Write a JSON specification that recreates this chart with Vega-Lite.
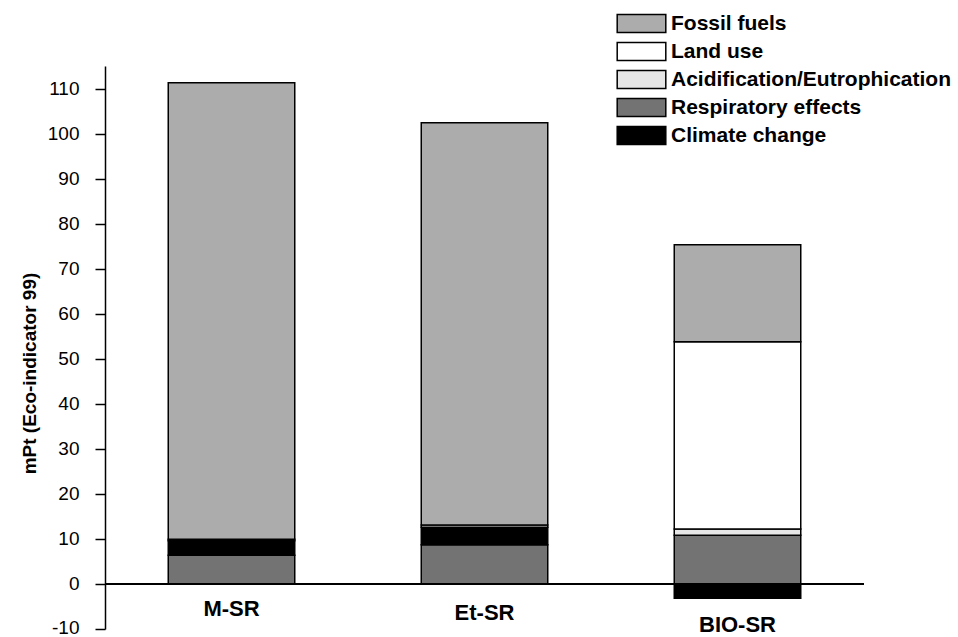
{
  "$schema": "https://vega.github.io/schema/vega-lite/v6.json",
  "width": 759,
  "height": 563,
  "autosize": {"type": "none"},
  "padding": {"left": 105, "top": 66, "right": 94, "bottom": 8},
  "background": "white",
  "config": {
    "font": "Liberation Sans",
    "view": {"stroke": null}
  },
  "data": {
    "values": [
      {"sample": "M-SR", "category": "Respiratory effects", "o": 1, "value": 6.4},
      {"sample": "M-SR", "category": "Climate change", "o": 2, "value": 3.2},
      {"sample": "M-SR", "category": "Acidification/Eutrophication", "o": 3, "value": 0.3},
      {"sample": "M-SR", "category": "Fossil fuels", "o": 5, "value": 101.4},
      {"sample": "Et-SR", "category": "Respiratory effects", "o": 1, "value": 8.7},
      {"sample": "Et-SR", "category": "Climate change", "o": 2, "value": 3.9},
      {"sample": "Et-SR", "category": "Acidification/Eutrophication", "o": 3, "value": 0.5},
      {"sample": "Et-SR", "category": "Fossil fuels", "o": 5, "value": 89.3},
      {"sample": "BIO-SR", "category": "Respiratory effects", "o": 1, "value": 10.8},
      {"sample": "BIO-SR", "category": "Climate change", "o": 2, "value": -3.2},
      {"sample": "BIO-SR", "category": "Acidification/Eutrophication", "o": 3, "value": 1.4},
      {"sample": "BIO-SR", "category": "Land use", "o": 4, "value": 41.6},
      {"sample": "BIO-SR", "category": "Fossil fuels", "o": 5, "value": 21.5}
    ]
  },
  "layer": [
    {
      "mark": {"type": "bar", "stroke": "black", "strokeWidth": 1.5, "opacity": 1},
      "encoding": {
        "x": {
          "field": "sample",
          "type": "nominal",
          "sort": ["M-SR", "Et-SR", "BIO-SR"],
          "scale": {"paddingInner": 0.5, "paddingOuter": 0.25},
          "axis": {
            "title": null,
            "orient": "bottom",
            "offset": -40,
            "domain": false,
            "ticks": false,
            "tickSize": 0,
            "labelAngle": 0,
            "labelFont": "Liberation Sans",
            "labelFontSize": 22,
            "labelFontWeight": "bold",
            "labelColor": "black",
            "labelBaseline": "top",
            "labelPadding": {
              "condition": [
                {"test": "datum.value === 'BIO-SR'", "value": 25},
                {"test": "datum.value === 'Et-SR'", "value": 13}
              ],
              "value": 9
            }
          }
        },
        "y": {
          "field": "value",
          "type": "quantitative",
          "stack": "zero",
          "scale": {"domain": [-10, 115], "nice": false, "zero": false},
          "axis": {
            "title": "mPt (Eco-indicator 99)",
            "titleFont": "Liberation Sans",
            "titleFontSize": 19,
            "titleFontWeight": "bold",
            "titleColor": "black",
            "titleY": 307,
            "titlePadding": 8,
            "values": [-10, -5, 0, 5, 10, 15, 20, 25, 30, 35, 40, 45, 50, 55, 60, 65, 70, 75, 80, 85, 90, 95, 100, 105, 110, 115],
            "labelExpr": "datum.value % 10 === 0 ? '' + datum.value : ''",
            "labelFont": "Liberation Sans",
            "labelFontSize": 19,
            "labelColor": "black",
            "labelPadding": 16,
            "labelOffset": {"condition": {"test": "datum.value === -10", "value": -2}, "value": 0},
            "tickSize": {"condition": {"test": "datum.value % 10 !== 0", "value": 5}, "value": 10},
            "tickColor": "black",
            "tickWidth": 1.5,
            "domainColor": "black",
            "domainWidth": 1.5,
            "grid": false
          }
        },
        "fill": {
          "field": "category",
          "type": "nominal",
          "scale": {
            "domain": ["Fossil fuels", "Land use", "Acidification/Eutrophication", "Respiratory effects", "Climate change"],
            "range": ["#acacac", "#ffffff", "#e6e6e6", "#737373", "#000000"]
          },
          "legend": {
            "title": null,
            "orient": "none",
            "legendX": 526,
            "legendY": -53,
            "symbolType": "M-2.7,-1H2.7V1H-2.7Z",
            "symbolSize": 324,
            "symbolStrokeColor": "black",
            "symbolStrokeWidth": 1.5,
            "symbolOpacity": 1,
            "labelFont": "Liberation Sans",
            "labelFontSize": 21,
            "labelFontWeight": "bold",
            "labelColor": "black",
            "labelOffset": 19,
            "labelLimit": 400,
            "rowPadding": 3
          }
        },
        "order": {"field": "o", "type": "quantitative"}
      }
    },
    {
      "mark": {"type": "rule", "color": "black", "strokeWidth": 1.5},
      "encoding": {"y": {"datum": 0}}
    }
  ]
}
